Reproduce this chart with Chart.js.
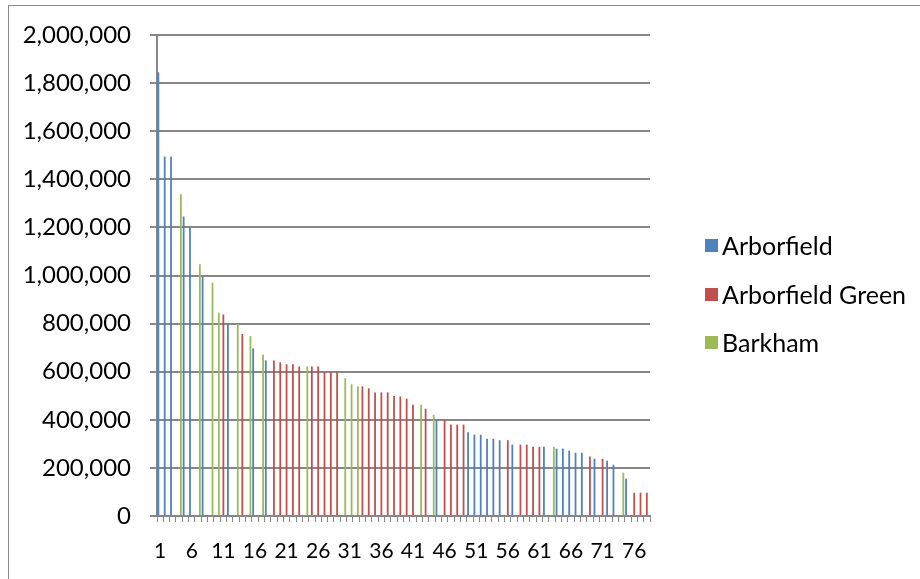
<!DOCTYPE html>
<html>
<head>
<meta charset="utf-8">
<script src="https://cdn.jsdelivr.net/npm/chart.js@4.4.1/dist/chart.umd.min.js"></script>
<style>
  html, body { margin: 0; padding: 0; background: #fff; }
  #wrap { position: relative; width: 920px; height: 579px; overflow: hidden; }
  #frame { position: absolute; left: 8px; top: 5px; width: 940px; height: 600px; border: 1px solid #8a8a8a; box-sizing: border-box; }
  #chart { position: absolute; left: 0; top: 0; }
  #legend { position: absolute; left: 705px; top: 0; font-family: Lato, sans-serif; font-size: 25px; color: #000; }
  .item { position: absolute; left: 0; white-space: nowrap; display: flex; align-items: center; transform: translateY(-50%); }
  .sw { width: 13px; height: 13px; margin-right: 4px; }
</style>
</head>
<body>
<div id="wrap">
  <div id="frame"></div>
  <canvas id="chart" width="920" height="579"></canvas>
  <div id="legend"></div>
</div>
<script>
/* sorted column chart, one bar per row, coloured by village */
const seriesNames = ["Arborfield", "Arborfield Green", "Barkham"];
const seriesColors = ["#4f81bd", "#c0504d", "#9bbb59"];

const categories = [
  "1", "2", "3", "4", "5", "6", "7", "8", "9", "10", "11", "12", "13", "14", "15", "16", "17", "18", "19", "20",
  "21", "22", "23", "24", "25", "26", "27", "28", "29", "30", "31", "32", "33", "34", "35", "36", "37", "38", "39", "40",
  "41", "42", "43", "44", "45", "46", "47", "48", "49", "50", "51", "52", "53", "54", "55", "56", "57", "58", "59", "60",
  "61", "62", "63", "64", "65", "66", "67", "68", "69", "70", "71", "72", "73", "74", "75", "76", "77", "78"
];

// 0 = Arborfield, 1 = Arborfield Green, 2 = Barkham
const seriesOf = [
  0, 0, 0, 2, 0, 0, 2, 0, 2, 2, 1, 0, 2, 1, 2, 0, 2, 0, 1, 1,
  1, 1, 1, 2, 1, 1, 1, 1, 1, 2, 2, 2, 1, 1, 1, 1, 1, 1, 1, 1,
  1, 2, 1, 2, 0, 1, 1, 1, 1, 0, 0, 0, 0, 0, 0, 1, 0, 1, 1, 1,
  1, 0, 2, 0, 0, 0, 0, 0, 1, 0, 1, 0, 0, 2, 0, 1, 1, 1
];

const values = [
  1845000, 1495000, 1495000, 1338000, 1245000, 1200000, 1047000, 995000, 970000, 845000,
  838000, 798000, 798000, 757000, 748000, 697000, 672000, 647000, 647000, 639000,
  631000, 631000, 622000, 622000, 622000, 622000, 599000, 599000, 599000, 573000,
  548000, 539000, 539000, 531000, 514000, 514000, 514000, 499000, 497000, 488000,
  463000, 463000, 446000, 421000, 399000, 399000, 380000, 380000, 380000, 348000,
  338000, 338000, 321000, 321000, 315000, 315000, 297000, 297000, 297000, 288000,
  288000, 288000, 288000, 280000, 280000, 272000, 263000, 263000, 247000, 238000,
  238000, 230000, 213000, 180000, 155000, 97000, 97000, 97000
];

const yTicks = [0, 200000, 400000, 600000, 800000, 1000000, 1200000, 1400000, 1600000, 1800000, 2000000];

const datasets = seriesNames.map((name, s) => ({
  label: name,
  data: values.map((v, i) => (seriesOf[i] === s ? v : null)),
  backgroundColor: seriesColors[s],
  borderWidth: 0,
  categoryPercentage: 0.85,
  barPercentage: 1.0,
}));

const AXIS = "#878787";

new Chart(document.getElementById("chart"), {
  type: "bar",
  data: { labels: categories, datasets },
  options: {
    responsive: false,
    animation: false,
    events: [],
    layout: { padding: { left: 0, top: 35, right: 270, bottom: 0 } },
    plugins: { legend: { display: false }, tooltip: { enabled: false } },
    scales: {
      x: {
        grid: { display: true, drawOnChartArea: false, offset: true, color: AXIS, tickLength: 6, lineWidth: 1 },
        border: { display: true, color: AXIS, width: 2 },
        ticks: {
          autoSkip: false,
          maxRotation: 0,
          minRotation: 0,
          padding: 17,
          color: "#000",
          font: { family: "Lato", size: 21 },
          callback: (v, i) => (i % 5 === 0 ? categories[i] : ""),
        },
        afterFit: (scale) => { scale.height = 63; },
      },
      y: {
        min: 0,
        max: 2000000,
        afterBuildTicks: (scale) => { scale.ticks = yTicks.map((v) => ({ value: v })); },
        grid: { color: AXIS, lineWidth: 2, tickLength: 7 },
        border: { display: true, color: AXIS, width: 2 },
        ticks: {
          padding: 19,
          color: "#000",
          font: { family: "Lato", size: 24 },
          callback: (v) => v.toLocaleString("en-US"),
        },
        afterFit: (scale) => { scale.width = 157; },
      },
    },
  },
});

// legend as html text, rows centred at these heights
const legendRows = [245, 294, 342];
const legendEl = document.getElementById("legend");
seriesNames.forEach((name, s) => {
  const item = document.createElement("div");
  item.className = "item";
  item.style.top = legendRows[s] + "px";
  item.innerHTML = `<span class="sw" style="background:${seriesColors[s]}"></span><span>${name}</span>`;
  legendEl.appendChild(item);
});
</script>
</body>
</html>
